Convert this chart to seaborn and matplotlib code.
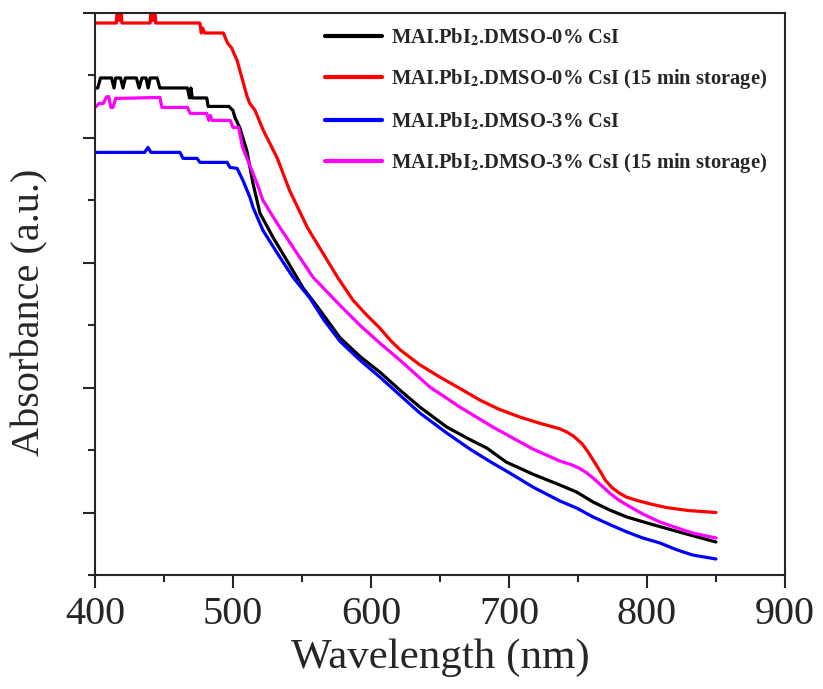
import matplotlib
matplotlib.use("Agg")
from matplotlib import pyplot as plt
from matplotlib.ticker import MultipleLocator
import pandas as pd
import seaborn as sns

# wavelength (nm) / absorbance (a.u.)
wl_0 = [400, 402, 404, 412, 413.8, 415, 418.5, 420.3, 422, 430, 432, 434, 437, 438.5, 440,
        445, 447, 467, 468.5, 469.5, 470.5, 474, 481, 482, 497, 500, 501.4, 505, 510, 514.5,
        519.6, 529, 539, 550.7, 562, 577.5, 592, 606.5, 621, 635.5, 655, 670, 684, 698, 718,
        737, 749, 761, 773, 785.5, 802, 826, 850]
abs_0 = [2.20, 2.20, 2.24, 2.24, 2.20, 2.24, 2.24, 2.20, 2.24, 2.24, 2.20, 2.24, 2.24, 2.20, 2.24,
         2.24, 2.20, 2.20, 2.16, 2.20, 2.16, 2.16, 2.16, 2.126, 2.126, 2.11, 2.082, 2.04, 1.95, 1.818,
         1.698, 1.602, 1.51, 1.40, 1.318, 1.20, 1.125, 1.062, 0.99, 0.922, 0.842, 0.797, 0.758, 0.702,
         0.652, 0.61, 0.582, 0.542, 0.51, 0.482, 0.455, 0.418, 0.382]

wl_0s = [400, 415.5, 416.5, 417.5, 418.5, 419.5, 440, 441, 442, 443, 444, 476, 477, 478, 479.5,
         493, 494.5, 496, 499, 503, 507, 510, 512, 516, 522, 532, 541, 554, 565, 576, 587, 597,
         606.5, 614, 621, 635, 650, 665, 679, 693, 708, 722, 737, 742, 747, 753, 757, 761, 765, 770,
         775, 780, 785, 793, 802, 814, 830, 850]
abs_0s = [2.46, 2.46, 2.56, 2.47, 2.56, 2.46, 2.46, 2.56, 2.47, 2.56, 2.46, 2.46, 2.42, 2.44, 2.42,
          2.42, 2.40, 2.38, 2.36, 2.31, 2.23, 2.17, 2.14, 2.11, 2.03, 1.92, 1.79, 1.64, 1.54, 1.44, 1.35,
          1.29, 1.238, 1.19, 1.152, 1.093, 1.042, 0.995, 0.95, 0.913, 0.882, 0.858, 0.835, 0.822, 0.805,
          0.775, 0.745, 0.71, 0.675, 0.628, 0.598, 0.578, 0.562, 0.548, 0.535, 0.52, 0.508, 0.50]

wl_3 = [400, 436, 438.4, 440.5, 461.6, 463.8, 474, 476, 495.7, 497.8, 503, 507.2, 512.3, 514.5,
        521.7, 534, 543.5, 555.8, 566, 577.5, 592, 606.5, 621, 635.5, 655, 671.7, 686, 700, 718,
        737, 749, 761, 773, 785.5, 797, 809.4, 821, 833, 850]
abs_3 = [1.942, 1.942, 1.962, 1.942, 1.942, 1.918, 1.918, 1.902, 1.902, 1.882, 1.878, 1.83, 1.762, 1.722,
         1.63, 1.522, 1.442, 1.358, 1.27, 1.186, 1.11, 1.042, 0.97, 0.898, 0.818, 0.754, 0.705, 0.66,
         0.60, 0.546, 0.518, 0.482, 0.452, 0.422, 0.398, 0.378, 0.352, 0.33, 0.314]

wl_3s = [400, 403, 406, 408.5, 410, 411.5, 413, 415, 447, 448.5, 467, 469, 481, 482.5, 483.5, 485,
         498, 500, 504, 507, 510, 517.4, 521.7, 532, 543.5, 558, 577.5, 592, 606.5, 621, 642.8, 664.5,
         688.4, 717.4, 737, 745, 751.4, 756, 761, 767, 773, 779, 785.5, 797, 809.4, 821, 833, 850]
abs_3s = [2.122, 2.138, 2.138, 2.165, 2.165, 2.122, 2.122, 2.158, 2.162, 2.122, 2.122, 2.098, 2.098, 2.07, 2.09, 2.07,
          2.07, 2.042, 2.042, 1.962, 1.92, 1.818, 1.75, 1.658, 1.562, 1.442, 1.33, 1.25, 1.178, 1.11, 1.002, 0.922,
          0.842, 0.754, 0.706, 0.692, 0.676, 0.66, 0.638, 0.608, 0.578, 0.552, 0.53, 0.494, 0.462, 0.44, 0.418, 0.398]

labels = [r"MAI.PbI$_\mathbf{2}$.DMSO-0% CsI",
          r"MAI.PbI$_\mathbf{2}$.DMSO-0% CsI (15 min storage)",
          r"MAI.PbI$_\mathbf{2}$.DMSO-3% CsI",
          r"MAI.PbI$_\mathbf{2}$.DMSO-3% CsI (15 min storage)"]
colors = ["#000000", "#ff0000", "#0000ff", "#ff00ff"]

series = [(wl_0, abs_0), (wl_0s, abs_0s), (wl_3, abs_3), (wl_3s, abs_3s)]
frames = []
for lab, (wl, ab) in zip(labels, series):
    frames.append(pd.DataFrame({"wl": wl, "abs": ab, "sample": lab}))
df = pd.concat(frames, ignore_index=True)

sns.set_style("ticks")
plt.rcParams['font.family'] = ['Liberation Serif', 'DejaVu Serif']
plt.rcParams['mathtext.fontset'] = 'stix'

fig = plt.figure(figsize=(8.23, 6.89), dpi=100)
ax = fig.add_axes([0.1154, 0.1655, 0.8384, 0.8156])
sns.lineplot(data=df, x="wl", y="abs", hue="sample", hue_order=labels, palette=colors,
             linewidth=2.3, sort=False, estimator=None, ax=ax)

ax.set_xlim(400, 900)
ax.set_ylim(0.25, 2.5)
ax.xaxis.set_major_locator(MultipleLocator(100))
ax.xaxis.set_minor_locator(MultipleLocator(50))
ax.yaxis.set_major_locator(MultipleLocator(0.5))
ax.yaxis.set_minor_locator(MultipleLocator(0.25))
ax.set_yticklabels([])
ax.tick_params(which="major", direction="out", length=9, width=1.5, labelsize=29, top=False, right=False)
ax.tick_params(which="minor", direction="out", length=5, width=1.5, top=False, right=False)
ax.tick_params(axis="x", pad=6)
for s in ax.spines.values():
    s.set_linewidth(1.5)
    s.set_visible(True)

ax.set_xlabel("Wavelength (nm)", fontsize=31, labelpad=4)
ax.set_ylabel("Absorbance (a.u.)", fontsize=29)
ax.yaxis.set_label_coords(-0.068, 0.468)

leg = ax.legend(loc="upper left", bbox_to_anchor=(0.333, 0.976), frameon=False,
                handlelength=2.8, handletextpad=0.4, labelspacing=0.93,
                borderpad=0, borderaxespad=0,
                prop={"family": "Liberation Serif", "weight": "bold", "size": 14.8})
for line in leg.get_lines():
    line.set_linewidth(3)

fig.savefig("out.png", dpi=100)
